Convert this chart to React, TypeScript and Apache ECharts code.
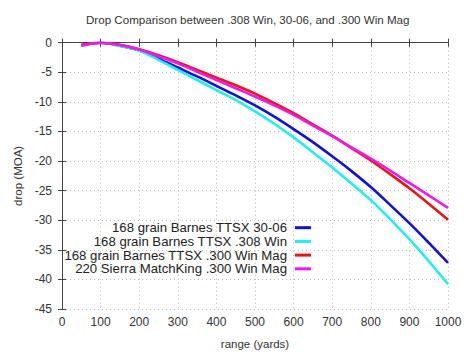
import React, { useEffect, useRef } from "react";
import * as echarts from "echarts";

const rangeYards = [50, 100, 150, 200, 250, 300, 350, 400, 450, 500, 550, 600, 650, 700, 750, 800, 850, 900, 950, 1000];

const seriesNames = [
  "168 grain Barnes TTSX 30-06",
  "168 grain Barnes TTSX .308 Win",
  "168 grain Barnes TTSX .300 Win Mag",
  "220 Sierra MatchKing .300 Win Mag",
];

const drop3006 = [-0.4, 0, -0.5, -1.3, -2.7, -4.2, -5.7, -7.3, -8.9, -10.6, -12.5, -14.6, -16.8, -19.2, -21.7, -24.4, -27.4, -30.5, -33.8, -37.2];
const drop308 = [-0.45, 0, -0.55, -1.35, -2.9, -4.6, -6.3, -8.0, -9.7, -11.6, -13.7, -16.0, -18.5, -21.1, -23.8, -26.6, -29.8, -33.2, -36.9, -40.8];
const drop300WM = [-0.4, 0, -0.35, -1.1, -2.1, -3.3, -4.6, -5.9, -7.2, -8.6, -10.2, -11.9, -13.8, -15.7, -17.8, -19.9, -22.2, -24.6, -27.2, -29.9];
const drop220SMK = [-0.5, 0, -0.4, -1.15, -2.3, -3.5, -4.9, -6.3, -7.7, -9.1, -10.6, -12.2, -14.0, -15.8, -17.7, -19.6, -21.6, -23.7, -25.8, -27.9];

const seriesData = [drop3006, drop308, drop300WM, drop220SMK];
const seriesColors = ["#1010e0", "#22eeee", "#ee1414", "#ee18ee"];

const xTicks = { min: 0, max: 1000, interval: 100 };
const yTicks = { min: -45, max: 0, interval: 5 };

const titleText = "Drop Comparison between .308 Win, 30-06, and .300 Win Mag";

export default function App() {
  const ref = useRef<HTMLDivElement>(null);
  useEffect(() => {
    if (!ref.current) return;
    const chart = echarts.init(ref.current, undefined, { renderer: "svg" });
    const font = "'Liberation Sans', Arial, sans-serif";
    const labelColor = "#333";
    const gridLine = { show: true, lineStyle: { color: "#b8b8b8", type: [1, 3] as any, width: 1 } };
    const axisLine = { show: true, lineStyle: { color: "#444", width: 1 } };
    const tick = { show: true, inside: true, length: 4, lineStyle: { color: "#444" } };
    const plain = (v: number) => String(v);
    chart.setOption({
      animation: false,
      backgroundColor: "#fff",
      title: {
        text: titleText,
        left: 86,
        top: 13,
        padding: 0,
        textStyle: { fontFamily: font, fontSize: 11.6, fontWeight: "normal", color: "#333" },
      },
      grid: { left: 62, right: 26, top: 42.7, bottom: 46, containLabel: false },
      legend: {
        orient: "vertical",
        align: "right",
        right: 158,
        top: 216,
        itemGap: 0.3,
        itemWidth: 16,
        itemHeight: 3,
        icon: "rect",
        textStyle: { fontFamily: font, fontSize: 13.2, color: "#222", lineHeight: 13.4, padding: [0, 3, 0, 0] },
        data: seriesNames,
      },
      xAxis: [
        {
          type: "value",
          ...xTicks,
          name: "range (yards)",
          nameLocation: "middle",
          nameGap: 29,
          nameTextStyle: { fontFamily: font, fontSize: 11.5, color: "#333" },
          axisLine,
          axisTick: tick,
          splitLine: gridLine,
          axisLabel: { fontFamily: font, fontSize: 12, color: labelColor, margin: 7, formatter: plain },
        },
        {
          type: "value",
          position: "top",
          ...xTicks,
          axisLine,
          axisTick: tick,
          splitLine: { show: false },
          axisLabel: { show: false },
        },
      ],
      yAxis: [
        {
          type: "value",
          ...yTicks,
          name: "drop (MOA)",
          nameLocation: "middle",
          nameGap: 38,
          nameTextStyle: { fontFamily: font, fontSize: 11.5, color: "#333" },
          axisLine,
          axisTick: tick,
          splitLine: gridLine,
          axisLabel: { fontFamily: font, fontSize: 12, color: labelColor, margin: 10, formatter: plain },
        },
        {
          type: "value",
          position: "right",
          ...yTicks,
          axisLine,
          axisTick: tick,
          splitLine: { show: false },
          axisLabel: { show: false },
        },
      ],
      series: seriesNames.map((name, i) => ({
        name,
        type: "line",
        data: rangeYards.map((x, j) => [x, seriesData[i][j]]),
        smooth: 0.3,
        showSymbol: false,
        symbol: "none",
        lineStyle: { color: seriesColors[i], width: 2.6 },
        itemStyle: { color: seriesColors[i] },
        xAxisIndex: 0,
        yAxisIndex: 0,
        z: 2 + i,
      })),
    });
    return () => chart.dispose();
  }, []);
  return <div ref={ref} style={{ width: 474, height: 355, position: "absolute", left: 0, top: 0 }} />;
}
